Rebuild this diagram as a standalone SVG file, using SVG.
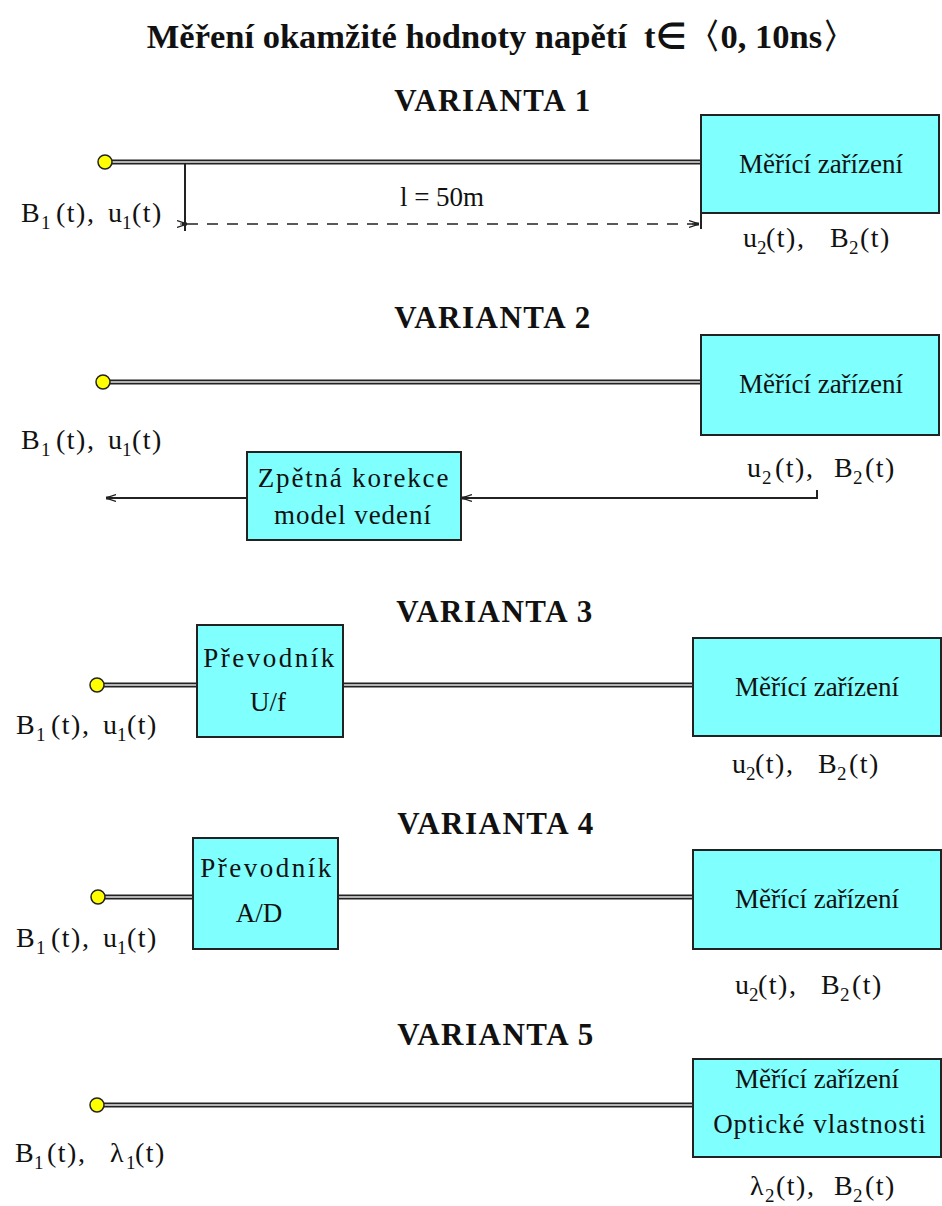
<svg xmlns="http://www.w3.org/2000/svg" width="942" height="1206" viewBox="0 0 942 1206">
<style>
text{font-family:"Liberation Serif","Times New Roman",serif;fill:#111;white-space:pre}
.title{font-size:34.5px;font-weight:bold;text-anchor:middle}
.var{font-size:31px;font-weight:bold;text-anchor:middle;letter-spacing:1.5px}
.t{font-size:27px}
.lb{font-size:28px;letter-spacing:1.5px}
.c{text-anchor:middle}
.sub{font-size:19px;letter-spacing:0}
.box{fill:#80FFFF;stroke:#222;stroke-width:2}
.cab{stroke:#222;stroke-width:5;fill:none}
.cabi{stroke:#e6e6e6;stroke-width:1.5;fill:none}
.dot{fill:#FFFF00;stroke:#222;stroke-width:1.5}
.ln{stroke:#222;stroke-width:2;fill:none}
.dash{stroke:#222;stroke-width:1.5;fill:none;stroke-dasharray:11 9}
</style>
<defs>
<marker id="ah" viewBox="0 0 10 8" refX="10" refY="4" markerWidth="10" markerHeight="8" markerUnits="userSpaceOnUse" orient="auto">
<path d="M0,0.5 L10,4 L0,7.5 M3,4 L10,4" fill="none" stroke="#222" stroke-width="1.2"/>
<rect x="5" y="2.5" width="5" height="3" fill="#222"/>
</marker>
</defs>
<text class="title" x="502" y="48">Měření okamžité hodnoty napětí  t∈〈0, 10ns〉</text>

<g id="connectors">
<line class="cab" x1="110" y1="162" x2="701" y2="162"/><line class="cabi" x1="110" y1="162" x2="701" y2="162"/>
<line class="ln" x1="185" y1="164" x2="185" y2="231"/>
<line class="ln" x1="701" y1="213" x2="701" y2="229"/>
<line class="dash" x1="187" y1="224" x2="699" y2="224" marker-start="url(#ah)" marker-end="url(#ah)"/>

<line class="cab" x1="108" y1="382" x2="701" y2="382"/><line class="cabi" x1="108" y1="382" x2="701" y2="382"/>
<polyline class="ln" points="817,490 817,498 462,498" marker-end="url(#ah)"/>
<line class="ln" x1="247" y1="498" x2="106" y2="498" marker-end="url(#ah)"/>

<line class="cab" x1="102" y1="685" x2="197" y2="685"/><line class="cabi" x1="102" y1="685" x2="197" y2="685"/>
<line class="cab" x1="343" y1="685" x2="693" y2="685"/><line class="cabi" x1="343" y1="685" x2="693" y2="685"/>

<line class="cab" x1="103" y1="897" x2="193" y2="897"/><line class="cabi" x1="103" y1="897" x2="193" y2="897"/>
<line class="cab" x1="338" y1="897" x2="693" y2="897"/><line class="cabi" x1="338" y1="897" x2="693" y2="897"/>

<line class="cab" x1="102" y1="1105" x2="693" y2="1105"/><line class="cabi" x1="102" y1="1105" x2="693" y2="1105"/>
</g>

<g id="variant1">
<text class="var" x="493" y="111">VARIANTA 1</text>
<circle class="dot" cx="105" cy="162" r="7"/>
<text class="lb" y="222"><tspan x="21">B</tspan><tspan class="sub" x="41" dy="7">1</tspan><tspan x="56" dy="-7">(t),</tspan><tspan x="108">u</tspan><tspan class="sub" x="122" dy="7">1</tspan><tspan x="132" dy="-7">(t)</tspan></text>
<text class="t c" x="442" y="206">l = 50m</text>
<text class="lb" y="247"><tspan x="743">u</tspan><tspan class="sub" x="757" dy="7">2</tspan><tspan x="766" dy="-7">(t)</tspan><tspan x="797">,</tspan><tspan x="830">B</tspan><tspan class="sub" x="849" dy="7">2</tspan><tspan x="860" dy="-7">(t)</tspan></text>
</g>
<g id="measure1">
<rect class="box" x="701" y="115" width="238" height="98"/>
<text class="t c" x="821" y="173">Měřící zařízení</text>
</g>

<g id="variant2">
<text class="var" x="493" y="328">VARIANTA 2</text>
<circle class="dot" cx="103" cy="382" r="7"/>
<text class="lb" y="449"><tspan x="21">B</tspan><tspan class="sub" x="41" dy="7">1</tspan><tspan x="56" dy="-7">(t),</tspan><tspan x="108">u</tspan><tspan class="sub" x="122" dy="7">1</tspan><tspan x="132" dy="-7">(t)</tspan></text>
<text class="lb" y="477"><tspan x="747">u</tspan><tspan class="sub" x="762" dy="7">2</tspan><tspan x="775" dy="-7">(t)</tspan><tspan x="806">,</tspan><tspan x="834">B</tspan><tspan class="sub" x="853" dy="7">2</tspan><tspan x="865" dy="-7">(t)</tspan></text>
</g>
<g id="measure2">
<rect class="box" x="701" y="335" width="238" height="100"/>
<text class="t c" x="821" y="393">Měřící zařízení</text>
</g>
<g id="correction">
<rect class="box" x="247" y="452" width="214" height="88"/>
<text class="t c" x="354" y="487" style="letter-spacing:1.8px">Zpětná korekce</text>
<text class="t c" x="353" y="524" style="letter-spacing:1px">model vedení</text>
</g>

<g id="variant3">
<text class="var" x="495" y="622">VARIANTA 3</text>
<circle class="dot" cx="97" cy="685" r="7"/>
<text class="lb" y="734"><tspan x="16">B</tspan><tspan class="sub" x="36" dy="7">1</tspan><tspan x="51" dy="-7">(t),</tspan><tspan x="103">u</tspan><tspan class="sub" x="117" dy="7">1</tspan><tspan x="127" dy="-7">(t)</tspan></text>
<text class="lb" y="773"><tspan x="732">u</tspan><tspan class="sub" x="746" dy="7">2</tspan><tspan x="755" dy="-7">(t)</tspan><tspan x="786">,</tspan><tspan x="818">B</tspan><tspan class="sub" x="837" dy="7">2</tspan><tspan x="849" dy="-7">(t)</tspan></text>
</g>
<g id="converter3">
<rect class="box" x="197" y="625" width="146" height="112"/>
<text class="t c" x="270" y="667" style="letter-spacing:2.5px">Převodník</text>
<text class="t c" x="268" y="711">U/f</text>
</g>
<g id="measure3">
<rect class="box" x="693" y="638" width="248" height="98"/>
<text class="t c" x="817" y="696">Měřící zařízení</text>
</g>

<g id="variant4">
<text class="var" x="496" y="834">VARIANTA 4</text>
<circle class="dot" cx="98" cy="897" r="7"/>
<text class="lb" y="947"><tspan x="16">B</tspan><tspan class="sub" x="36" dy="7">1</tspan><tspan x="51" dy="-7">(t),</tspan><tspan x="103">u</tspan><tspan class="sub" x="117" dy="7">1</tspan><tspan x="127" dy="-7">(t)</tspan></text>
<text class="lb" y="994"><tspan x="735">u</tspan><tspan class="sub" x="749" dy="7">2</tspan><tspan x="758" dy="-7">(t)</tspan><tspan x="789">,</tspan><tspan x="821">B</tspan><tspan class="sub" x="840" dy="7">2</tspan><tspan x="852" dy="-7">(t)</tspan></text>
</g>
<g id="converter4">
<rect class="box" x="193" y="838" width="145" height="111"/>
<text class="t c" x="267" y="877" style="letter-spacing:2.5px">Převodník</text>
<text class="t c" x="259" y="922">A/D</text>
</g>
<g id="measure4">
<rect class="box" x="693" y="850" width="248" height="99"/>
<text class="t c" x="817" y="908">Měřící zařízení</text>
</g>

<g id="variant5">
<text class="var" x="496" y="1045">VARIANTA 5</text>
<circle class="dot" cx="97" cy="1105" r="7"/>
<text class="lb" y="1162"><tspan x="15">B</tspan><tspan class="sub" x="34" dy="7">1</tspan><tspan x="47" dy="-7">(t),</tspan><tspan x="110">λ</tspan><tspan class="sub" x="126" dy="7">1</tspan><tspan x="135" dy="-7">(t)</tspan></text>
<text class="lb" y="1195"><tspan x="750">λ</tspan><tspan class="sub" x="765" dy="7">2</tspan><tspan x="776" dy="-7">(t)</tspan><tspan x="807">,</tspan><tspan x="834">B</tspan><tspan class="sub" x="853" dy="7">2</tspan><tspan x="865" dy="-7">(t)</tspan></text>
</g>
<g id="measure5">
<rect class="box" x="693" y="1059" width="248" height="98"/>
<text class="t c" x="817" y="1088">Měřící zařízení</text>
<text class="t c" x="820" y="1133" style="letter-spacing:1px">Optické vlastnosti</text>
</g>
</svg>
